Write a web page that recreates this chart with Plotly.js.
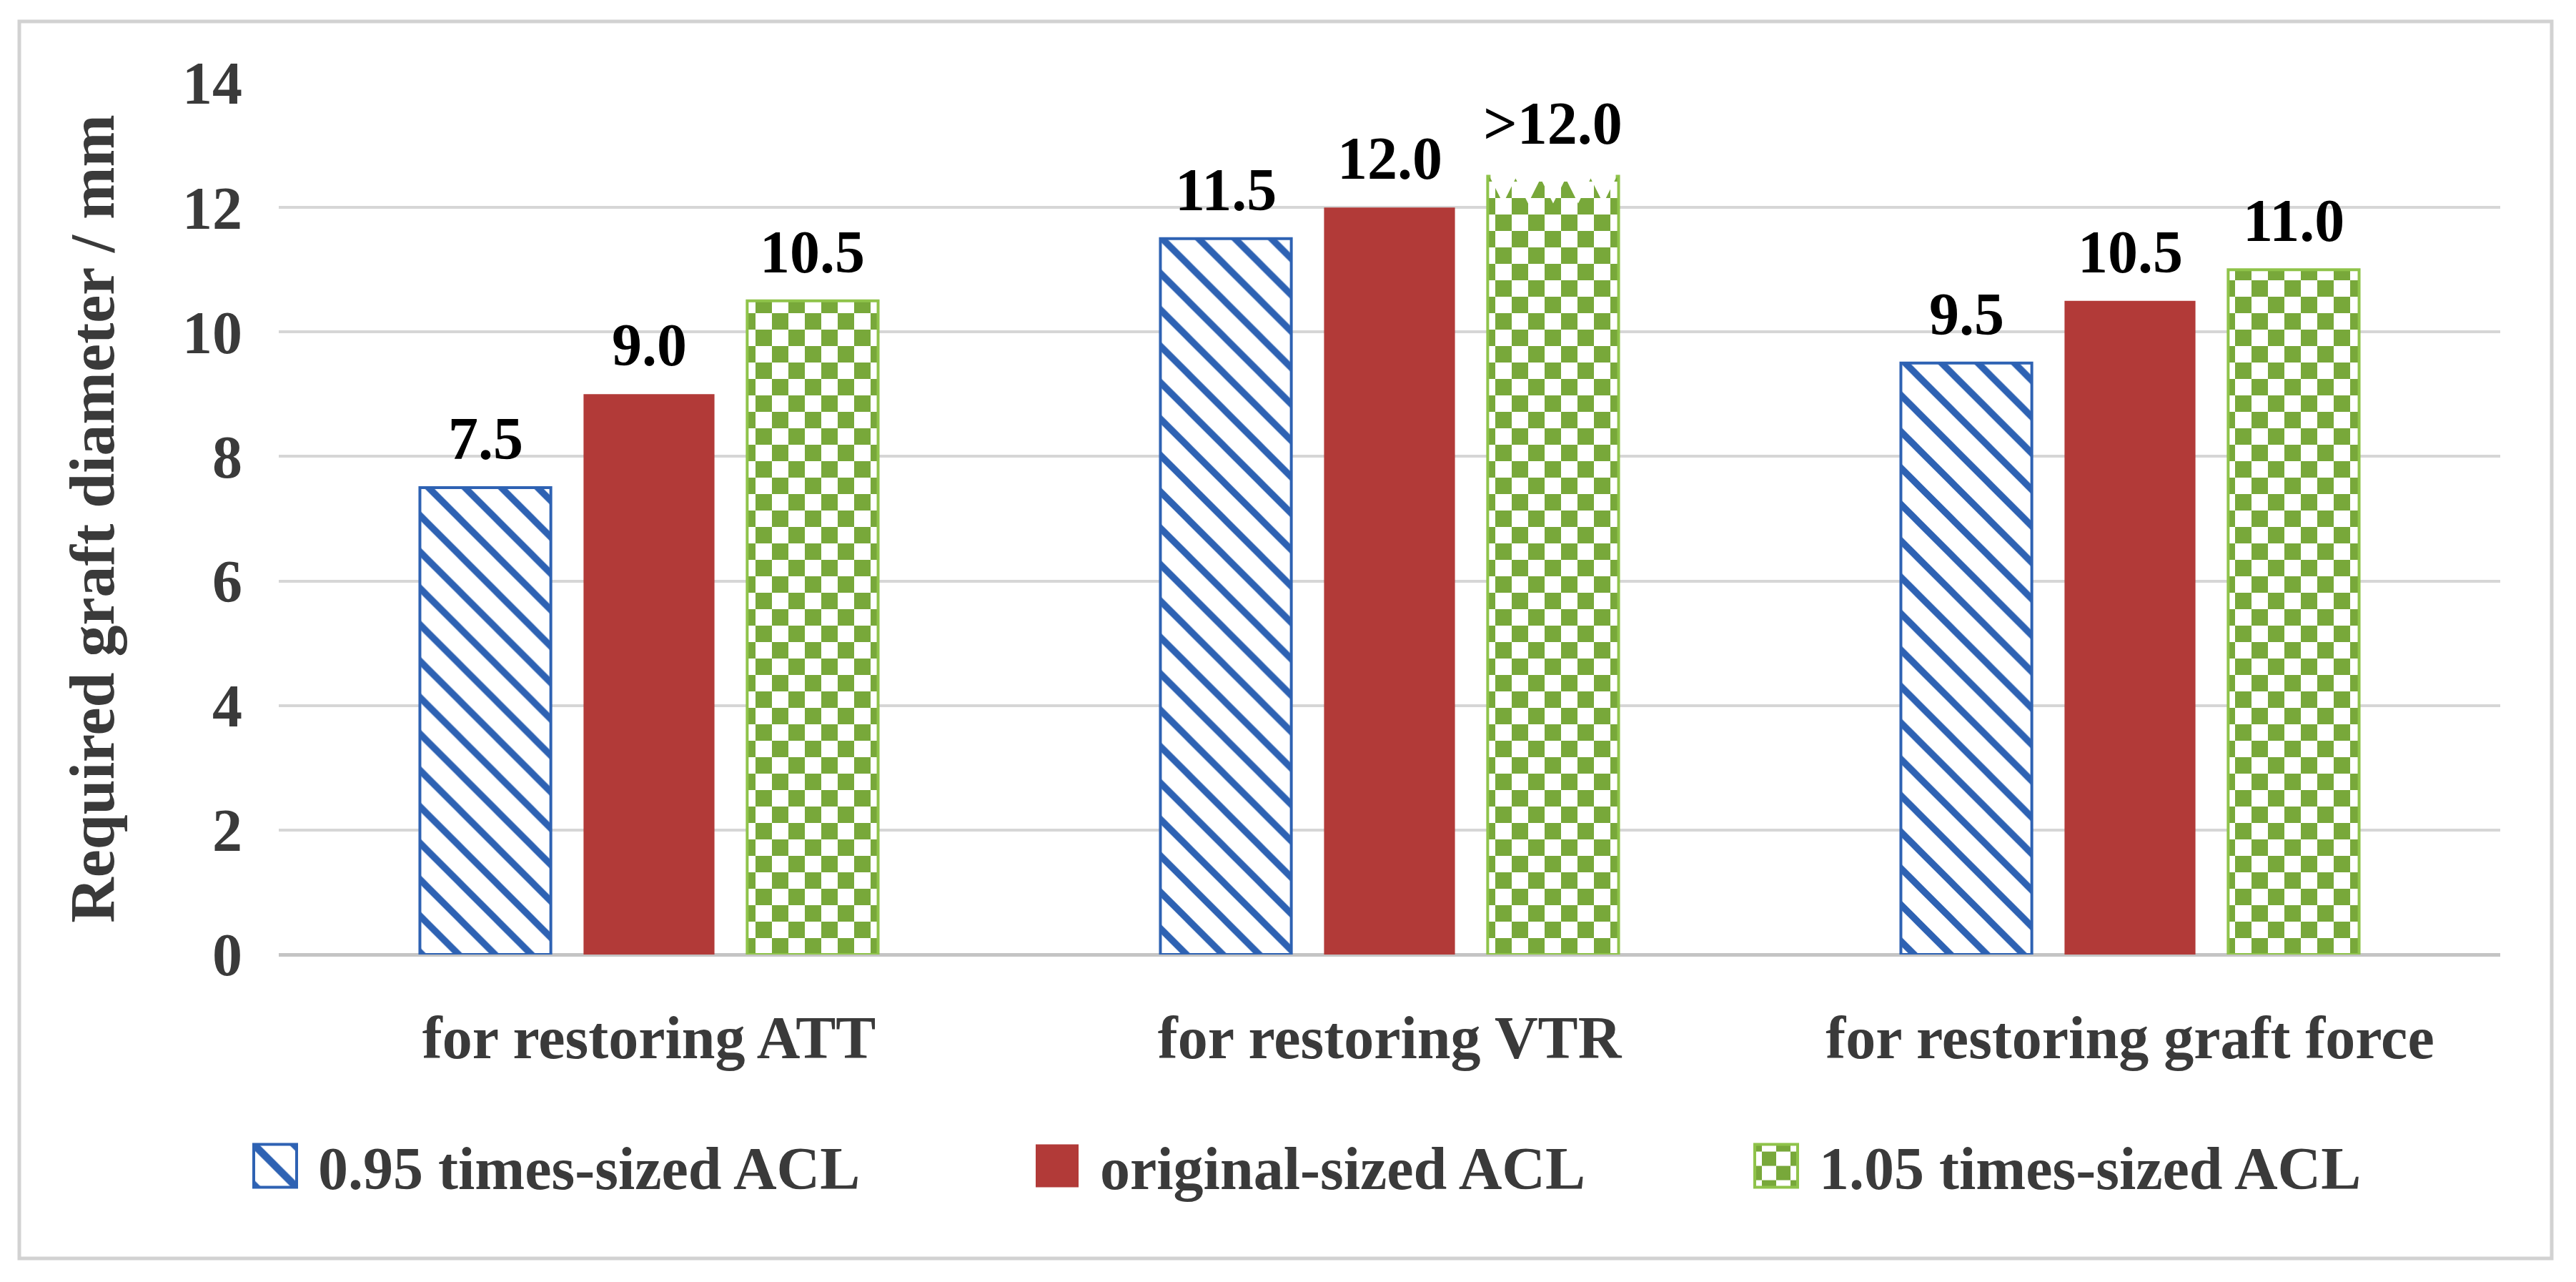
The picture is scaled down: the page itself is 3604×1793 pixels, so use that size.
<!DOCTYPE html>
<html><head><meta charset="utf-8">
<script src="https://cdn.plot.ly/plotly-3.0.1.min.js"></script>
<style>html,body{margin:0;padding:0;background:#fff} #chart{width:3604px;height:1793px}</style>
</head><body><div id="chart"></div>
<script>
// ---- data ----
const categories = ['for restoring ATT', 'for restoring VTR', 'for restoring graft force'];
const seriesNames = ['0.95 times-sized ACL', 'original-sized ACL', '1.05 times-sized ACL'];
const smallAcl = [7.5, 11.5, 9.5];
const originalAcl = [9.0, 12.0, 10.5];
const largeAcl = [10.5, 12.5, 11.0];
const smallLabels = ['7.5', '11.5', '9.5'];
const originalLabels = ['9.0', '12.0', '10.5'];
const largeLabels = ['10.5', '>12.0', '11.0'];
const yTickVals = [0, 2, 4, 6, 8, 10, 12, 14];
const yTitle = 'Required graft diameter / mm';

// ---- styling ----
const W = 3604, H = 1793;
const M = {l: 390, r: 106, t: 116, b: 458};
const PW = W - M.l - M.r, PH = H - M.t - M.b;
const YMAX = 14;
const px2x = px => (px - M.l) / PW;
const px2y = py => (H - M.b - py) / PH;
const FONT = "'Liberation Serif', 'Times New Roman', serif";
const TXT = '#3a3a3a';
const BLUE = '#2E62B3', RED = '#B23A38', GREEN = '#78A83A', GREEN_EDGE = '#8FC34A';
const BARGAP = 0.337, GROUPGAP = 0.2;

const values = [smallAcl, originalAcl, largeAcl];
const labels = [smallLabels, originalLabels, largeLabels];

const data = [
  {type: 'bar', name: seriesNames[0], x: categories, y: smallAcl, uid: 'blueser', legend: 'legend',
   marker: {color: '#ffffff', line: {color: BLUE, width: 4},
            pattern: {shape: '\\', fgcolor: BLUE, bgcolor: '#ffffff', size: 36, solidity: 0.26, fillmode: 'replace'}},
   hoverinfo: 'skip'},
  {type: 'bar', name: seriesNames[1], x: categories, y: originalAcl, uid: 'redser', legend: 'legend2',
   marker: {color: RED, line: {width: 0}}, hoverinfo: 'skip'},
  {type: 'bar', name: seriesNames[2], x: categories, y: largeAcl, uid: 'greenser', legend: 'legend3',
   marker: {color: '#ffffff', line: {color: GREEN_EDGE, width: 4},
            pattern: {shape: '+', fgcolor: GREEN, bgcolor: '#ffffff', size: 46, solidity: 0.5, fillmode: 'replace'}},
   hoverinfo: 'skip'}
];

// geometry of grouped bars (derived from layout settings)
const band = PW / categories.length;
const slot = band * (1 - BARGAP) / values.length;
const barW = slot * (1 - GROUPGAP);

// value labels above bars
const annotations = [];
values.forEach((vals, i) => {
  vals.forEach((v, j) => {
    annotations.push({x: categories[j], y: v, xref: 'x', yref: 'y', text: labels[i][j],
      showarrow: false, yanchor: 'bottom', xanchor: 'center', xshift: (i - 1) * slot,
      yshift: labels[i][j].startsWith('>') ? 26 : 20,
      font: {family: FONT, size: 84, weight: 'bold', color: '#000000'}});
  });
});

// jagged "cut" top for bars whose label is an open bound (">")
const shapes = [{type: 'rect', xref: 'paper', yref: 'paper', layer: 'below',
  x0: px2x(27), x1: px2x(3570), y0: px2y(1760), y1: px2y(30),
  line: {color: '#d2d2d2', width: 5}, fillcolor: 'rgba(0,0,0,0)'}];
values.forEach((vals, i) => {
  vals.forEach((v, j) => {
    if (!labels[i][j].startsWith('>')) return;
    const cx = M.l + (j + 0.5) * band + (i - 1) * slot;
    const left = cx - barW / 2 + 4, right = cx + barW / 2 - 4;
    const teeth = 5, tw = (right - left) / teeth;
    const topPx = (H - M.b) - v / YMAX * PH;
    const depth = 38;
    let path = '';
    for (let k = 0; k < teeth; k++) {
      const a = left + k * tw;
      path += 'M' + px2x(a) + ',' + px2y(topPx - 4) + 'L' + px2x(a + tw) + ',' + px2y(topPx - 4) +
              'L' + px2x(a + tw) + ',' + px2y(topPx + 3) + 'L' + px2x(a + tw / 2) + ',' + px2y(topPx + depth) +
              'L' + px2x(a) + ',' + px2y(topPx + 3) + 'Z';
    }
    shapes.push({type: 'path', xref: 'paper', yref: 'paper', layer: 'above', path: path,
      fillcolor: '#ffffff', line: {width: 0}});
  });
});

const legendBase = {orientation: 'h', yanchor: 'middle', xanchor: 'left', y: px2y(1631),
  font: {family: FONT, size: 84, weight: 'bold', color: TXT}, itemwidth: 110,
  bgcolor: 'rgba(0,0,0,0)', borderwidth: 0};

const layout = {
  width: W, height: H, margin: M,
  paper_bgcolor: '#ffffff', plot_bgcolor: '#ffffff',
  barmode: 'group', bargap: BARGAP, bargroupgap: GROUPGAP,
  showlegend: true,
  legend: Object.assign({}, legendBase, {x: px2x(325)}),
  legend2: Object.assign({}, legendBase, {x: px2x(1419)}),
  legend3: Object.assign({}, legendBase, {x: px2x(2425)}),
  xaxis: {type: 'category', showgrid: false, showline: false, zeroline: false, ticks: '',
    tickfont: {family: FONT, size: 84, weight: 'bold', color: TXT}, ticklabelstandoff: 60},
  yaxis: {range: [0, YMAX], tickvals: yTickVals, ticktext: yTickVals.map(String),
    showgrid: true, gridcolor: '#d6d6d6', gridwidth: 4,
    zeroline: true, zerolinecolor: '#c4c4c4', zerolinewidth: 5, showline: false, ticks: '',
    tickfont: {family: FONT, size: 84, weight: 'bold', color: TXT}, ticklabelstandoff: 50,
    title: {text: yTitle, font: {family: FONT, size: 88, weight: 'bold', color: TXT}, standoff: 66}},
  annotations: annotations,
  shapes: shapes
};

const gd = document.getElementById('chart');
Plotly.newPlot(gd, data, layout, {staticPlot: true, displayModeBar: false}).then(() => {
  const ns = 'http://www.w3.org/2000/svg';
  // checkerboard fill for the 1.05 series
  gd.querySelectorAll('pattern').forEach(p => {
    if (!p.id || p.id.indexOf('greenser') < 0) return;
    const w = parseFloat(p.getAttribute('width')), h = parseFloat(p.getAttribute('height'));
    while (p.firstChild) p.removeChild(p.firstChild);
    const mk = (x, y, ww, hh, f) => {
      const r = document.createElementNS(ns, 'rect');
      r.setAttribute('x', x); r.setAttribute('y', y);
      r.setAttribute('width', ww); r.setAttribute('height', hh);
      r.setAttribute('fill', f); p.appendChild(r);
    };
    mk(0, 0, w, h, '#ffffff');
    mk(0, 0, w / 2, h / 2, GREEN);
    mk(w / 2, h / 2, w / 2, h / 2, GREEN);
  });
  // enlarge legend swatches
  gd.querySelectorAll('.legendpoints path').forEach(p => {
    const t = p.getAttribute('transform') || '';
    p.setAttribute('transform', t + ' scale(5)');
    p.setAttribute('vector-effect', 'non-scaling-stroke');
  });
});
</script>
</body></html>
